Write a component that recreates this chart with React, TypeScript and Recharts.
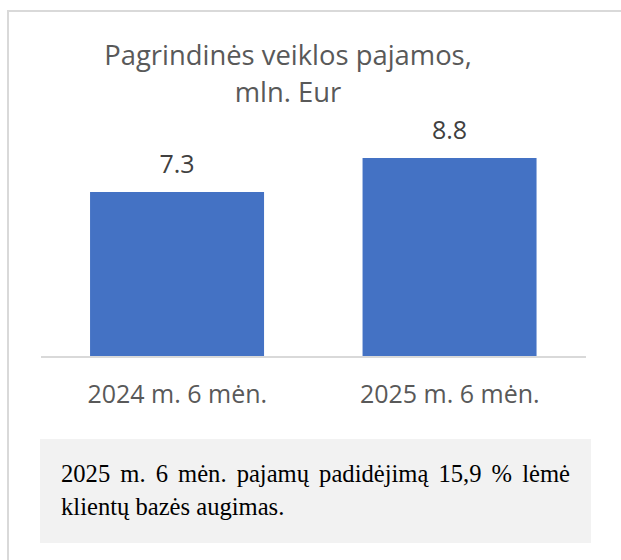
import React from 'react';
import { BarChart, Bar, XAxis, YAxis, LabelList } from 'recharts';

// categories and values (mln. Eur)
const periods = ['2024 m. 6 mėn.', '2025 m. 6 mėn.'];
const revenue = [7.3, 8.8];
const yDomain = [0, 10];

const chartData = periods.map((name, i) => ({ name, value: revenue[i] }));

const SANS = '"Open Sans", "Noto Sans", sans-serif';

export default function App() {
  return (
    <div style={{ position: 'absolute', left: 0, top: 0, width: 621, height: 560, overflow: 'hidden', background: '#fff' }}>
      {/* outer frame */}
      <div style={{ position: 'absolute', left: 7, top: 10, width: 700, height: 700, border: '2px solid #d9d9d9' }} />

      {/* title */}
      <div
        style={{
          position: 'absolute',
          left: 0,
          top: 36,
          width: 576,
          textAlign: 'center',
          fontFamily: SANS,
          fontSize: 27.4,
          lineHeight: '37px',
          color: '#595959',
        }}
      >
        Pagrindinės veiklos pajamos,
        <br />
        mln. Eur
      </div>

      <div style={{ position: 'absolute', left: 0, top: 0 }}>
        <BarChart
          width={621}
          height={440}
          data={chartData}
          margin={{ top: 131, right: 35, bottom: 0, left: 41 }}
          barCategoryGap="18%"
        >
          <XAxis
            dataKey="name"
            height={83}
            tickLine={false}
            tickMargin={22}
            axisLine={{ stroke: '#d9d9d9', strokeWidth: 2 }}
            tick={{ fontSize: 25, fill: '#595959', fontFamily: SANS }}
            interval={0}
          />
          <YAxis hide domain={yDomain} />
          <Bar dataKey="value" fill="#4472c4" isAnimationActive={false}>
            <LabelList
              dataKey="value"
              position="top"
              offset={19}
              fill="#404040"
              fontSize={25}
              fontFamily={SANS}
            />
          </Bar>
        </BarChart>
      </div>

      {/* note box */}
      <div
        style={{
          position: 'absolute',
          left: 40,
          top: 439,
          width: 551,
          height: 104,
          boxSizing: 'border-box',
          padding: '18px 21px 0 21px',
          background: '#f2f2f2',
          fontFamily: '"Liberation Serif", "Times New Roman", serif',
          fontSize: 24.6,
          lineHeight: '33px',
          color: '#000',
          textAlign: 'justify',
        }}
      >
        2025 m. 6 mėn. pajamų padidėjimą 15,9 % lėmė klientų bazės augimas.
      </div>
    </div>
  );
}
